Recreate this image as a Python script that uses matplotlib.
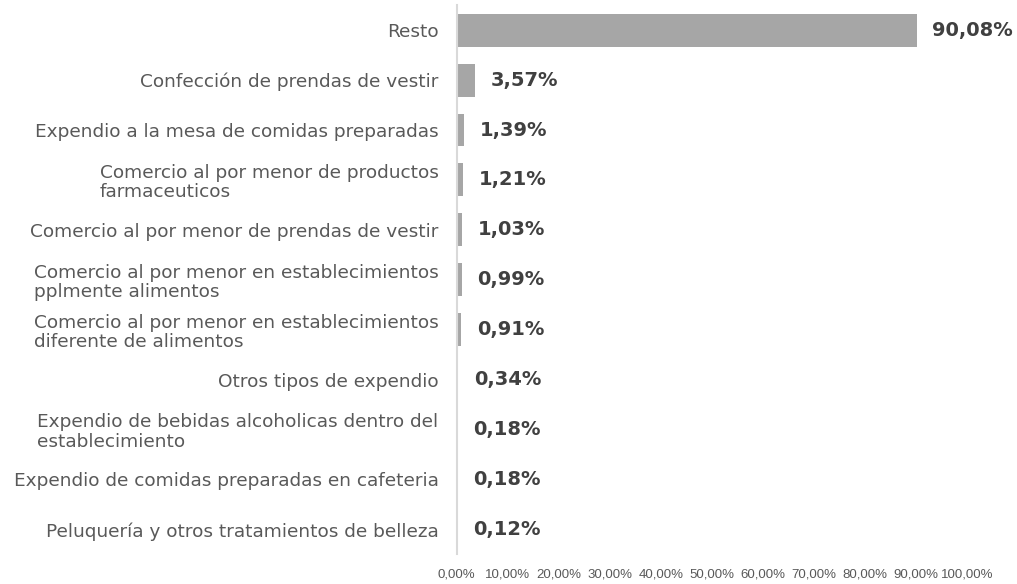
import matplotlib.pyplot as plt
from matplotlib.ticker import FuncFormatter

categorias = [
    "Resto",
    "Confección de prendas de vestir",
    "Expendio a la mesa de comidas preparadas",
    "Comercio al por menor de productos\nfarmaceuticos",
    "Comercio al por menor de prendas de vestir",
    "Comercio al por menor en establecimientos\npplmente alimentos",
    "Comercio al por menor en establecimientos\ndiferente de alimentos",
    "Otros tipos de expendio",
    "Expendio de bebidas alcoholicas dentro del\nestablecimiento",
    "Expendio de comidas preparadas en cafeteria",
    "Peluquería y otros tratamientos de belleza",
]
porcentajes = [90.08, 3.57, 1.39, 1.21, 1.03, 0.99, 0.91, 0.34, 0.18, 0.18, 0.12]
ticks_x = [0, 10, 20, 30, 40, 50, 60, 70, 80, 90, 100]

def coma(v, decimales=2):
    return f"{v:.{decimales}f}".replace(".", ",") + "%"

fig = plt.figure(figsize=(10.17, 5.84), dpi=100)
ax = fig.add_axes([0.449, 0.051, 0.502, 0.940])

y = list(range(len(categorias)))
ax.barh(y, porcentajes, height=0.66, color="#A6A6A6")
ax.set_ylim(len(categorias) - 0.5, -0.5)
ax.set_xlim(0, 100)

for yi, v in zip(y, porcentajes):
    ax.text(v + 3.1, yi, coma(v), va="center", ha="left", fontsize=14,
            fontweight="bold", color="#404040", family="DejaVu Sans")

ax.set_yticks(y)
ax.set_yticklabels(categorias, family="DejaVu Sans", fontsize=13.3, color="#595959",
                   multialignment="left", linespacing=1.1)
ax.set_xticks(ticks_x)
ax.xaxis.set_major_formatter(FuncFormatter(lambda v, p: coma(v)))
for t in ax.get_xticklabels():
    t.set_family("Liberation Sans")
    t.set_fontsize(9.5)
    t.set_color("#595959")
ax.tick_params(axis="both", length=0)
ax.tick_params(axis="y", pad=13)
ax.tick_params(axis="x", pad=10)

for s in ["top", "right", "bottom"]:
    ax.spines[s].set_visible(False)
ax.spines["left"].set_color("#D9D9D9")
ax.spines["left"].set_linewidth(1.5)

fig.savefig("out.png", dpi=100)
